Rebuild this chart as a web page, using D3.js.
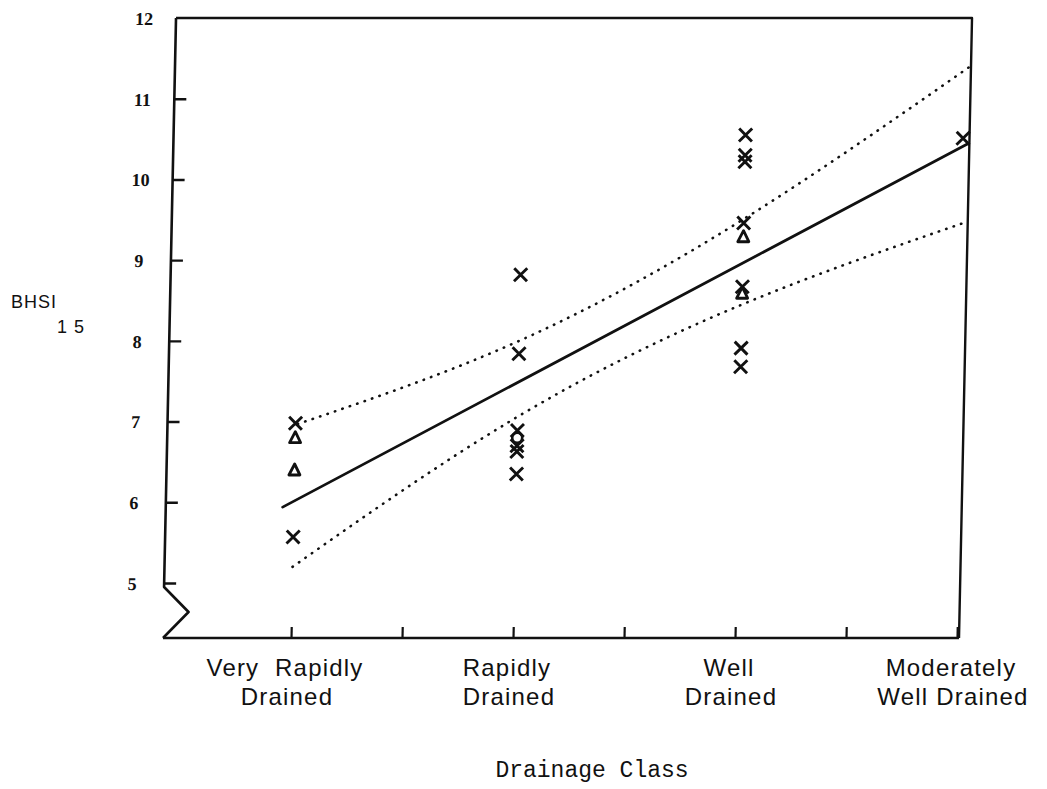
<!DOCTYPE html>
<html>
<head>
<meta charset="utf-8">
<script src="https://cdn.jsdelivr.net/npm/d3@7"></script>
<style>
  html, body { margin: 0; padding: 0; background: #fff; }
  svg { display: block; }
</style>
</head>
<body>
<svg id="chart" width="1047" height="789"></svg>
<script>
// Drainage classes along the x axis (two text lines each)
const classLine1 = ["Very  Rapidly", "Rapidly", "Well", "Moderately"];
const classLine2 = ["Drained", "Drained", "Drained", "Well Drained"];
const classTicks = [0, 0.5, 1, 1.5, 2, 2.5, 3];

// BHSI15 tick values
const yTicks = [5, 6, 7, 8, 9, 10, 11, 12];

// Observations: drainage class index and BHSI15
const crossClass = [0, 0, 1, 1, 1, 1, 1, 1, 2, 2, 2, 2, 2, 2, 2, 2.98];
const crossValue = [6.98, 5.57, 8.82, 7.84, 6.89, 6.70, 6.63, 6.35,
                    10.55, 10.30, 10.22, 9.46, 8.67, 7.91, 7.68, 10.51];
const triangleClass = [0, 0, 2, 2];
const triangleValue = [6.80, 6.40, 9.29, 8.59];
const circleClass = [1];
const circleValue = [6.80];

// Fitted regression line and its confidence band
const fitClass = [-0.05, 3];
const fitValue = [5.94, 10.44];
const upperClass = [0.01, 1, 2, 3];
const upperValue = [6.97, 8.0, 9.51, 11.39];
const lowerClass = [0, 1, 2, 3];
const lowerValue = [5.2, 7.06, 8.45, 9.47];

const svg = d3.select("#chart");
const ink = "#111";

const left = 163, bottom = 638;
const x = d3.scaleLinear().domain([0, 3]).range([291, 957]);
const y = d3.scaleLinear().domain([5, 12]).range([583, 18]);
const lean = -0.021;

// plot area, slightly sheared like a hand-drafted frame
const plot = svg.append("g")
  .attr("transform", `translate(0,${bottom}) matrix(1,0,${lean},1,0,0) translate(0,${-bottom})`);

// frame: top and right edges
plot.append("path")
  .attr("d", d3.line()([[left, y(12)], [x(3) + 2, y(12)], [x(3) + 2, bottom]]))
  .attr("fill", "none").attr("stroke", ink).attr("stroke-width", 2.4)
  .attr("stroke-linejoin", "round");

// y axis with break below 5
const yAxis = plot.append("g")
  .attr("transform", `translate(${left},0)`)
  .call(d3.axisLeft(y).tickValues(yTicks).tickSize(-12).tickPadding(0).tickFormat(d3.format("d")));
yAxis.select(".domain").remove();
yAxis.attr("font-size", null).attr("font-family", null);
yAxis.selectAll(".tick line").attr("stroke", ink).attr("stroke-width", 2.4);
yAxis.selectAll(".tick text")
  .attr("x", -32).attr("dy", "0.35em").attr("text-anchor", "middle")
  .attr("font-family", "'Liberation Serif', serif")
  .attr("font-weight", "bold").attr("font-size", 18).attr("fill", ink);
yAxis.select(".tick:last-of-type line").remove();

plot.append("path")
  .attr("d", d3.line()([[left, y(12)], [left, y(5) + 4], [left + 25, y(5) + 29], [left, bottom]]))
  .attr("fill", "none").attr("stroke", ink).attr("stroke-width", 2.6)
  .attr("stroke-linejoin", "round");

// x axis
const xAxis = plot.append("g")
  .attr("transform", `translate(0,${bottom})`)
  .call(d3.axisBottom(x).tickValues(classTicks).tickSize(-11).tickFormat(""));
xAxis.select(".domain").remove();
xAxis.selectAll(".tick line").attr("stroke", ink).attr("stroke-width", 2.2);
plot.append("line")
  .attr("x1", left).attr("x2", x(3) + 2)
  .attr("y1", bottom).attr("y2", bottom)
  .attr("stroke", ink).attr("stroke-width", 2.6);

// confidence band (dotted)
const band = (cls, val) => d3.line().curve(d3.curveNatural)
  .x((d, i) => x(cls[i])).y(d => y(d))(val);
[[upperClass, upperValue], [lowerClass, lowerValue]].forEach(([c, v]) => {
  plot.append("path")
    .attr("d", band(c, v))
    .attr("fill", "none").attr("stroke", ink).attr("stroke-width", 2.6)
    .attr("stroke-linecap", "round").attr("stroke-dasharray", "0.4 7.4");
});

// regression line
plot.append("path")
  .attr("d", d3.line().x((d, i) => x(fitClass[i])).y(d => y(d))(fitValue))
  .attr("fill", "none").attr("stroke", ink).attr("stroke-width", 2.8)
  .attr("stroke-linecap", "round");

// crosses
const cs = 6.5;
plot.append("g").selectAll("path")
  .data(crossValue)
  .join("path")
  .attr("transform", (d, i) => `translate(${x(crossClass[i])},${y(d)})`)
  .attr("d", `M${-cs},${-cs}L${cs},${cs}M${-cs},${cs}L${cs},${-cs}`)
  .attr("stroke", ink).attr("stroke-width", 2.9).attr("fill", "none");

// triangles
plot.append("g").selectAll("path")
  .data(triangleValue)
  .join("path")
  .attr("transform", (d, i) => `translate(${x(triangleClass[i])},${y(d)})`)
  .attr("d", "M0,-6L5.5,5L-5.5,5Z")
  .attr("stroke", ink).attr("stroke-width", 2.8).attr("fill", "none")
  .attr("stroke-linejoin", "round");

// circles
plot.append("g").selectAll("circle")
  .data(circleValue)
  .join("circle")
  .attr("cx", (d, i) => x(circleClass[i]))
  .attr("cy", d => y(d))
  .attr("r", 5)
  .attr("stroke", ink).attr("stroke-width", 2.6).attr("fill", "none");

// class labels
const labels = svg.append("g")
  .attr("font-family", "'Liberation Sans', Arial, sans-serif")
  .attr("font-size", 24).attr("letter-spacing", 1.2).attr("fill", ink)
  .attr("text-anchor", "middle");
classLine1.forEach((t, i) => {
  labels.append("text").attr("x", x(i) - 6).attr("y", 676)
    .style("white-space", "pre").text(t);
  labels.append("text").attr("x", x(i) - 4).attr("y", 705).text(classLine2[i]);
});

// axis titles
svg.append("text")
  .attr("x", 592).attr("y", 777)
  .attr("text-anchor", "middle")
  .attr("font-family", "'Liberation Mono', 'Courier New', monospace")
  .attr("font-size", 23).attr("fill", ink)
  .text("Drainage Class");

const yTitle = svg.append("text")
  .attr("x", 11).attr("y", 308)
  .attr("font-family", "'Liberation Sans', Arial, sans-serif")
  .attr("font-size", 18).attr("letter-spacing", 1).attr("fill", ink);
yTitle.append("tspan").text("BHSI");
yTitle.append("tspan").attr("dx", 0).attr("dy", 25).text("1 5");
</script>
</body>
</html>
